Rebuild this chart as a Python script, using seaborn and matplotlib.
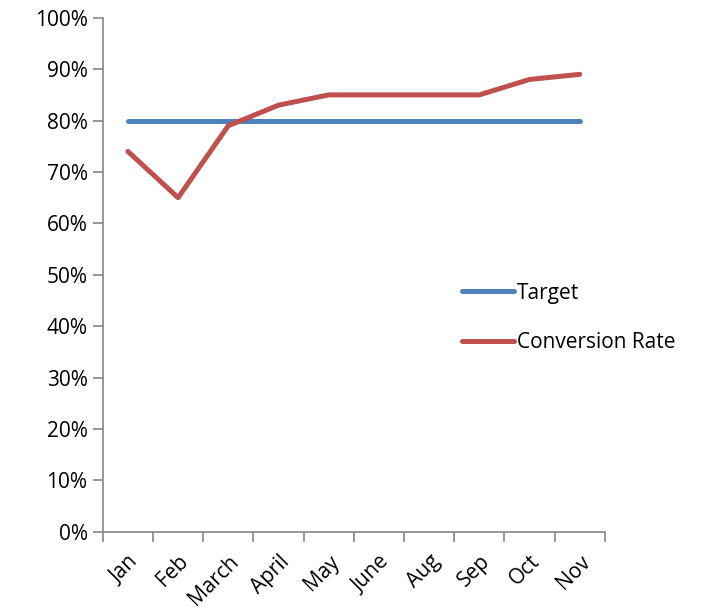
import numpy as np
import pandas as pd
import matplotlib.pyplot as plt
import seaborn as sns
from matplotlib.ticker import PercentFormatter, FixedLocator

# data
months = ['Jan', 'Feb', 'March', 'April', 'May', 'June', 'Aug', 'Sep', 'Oct', 'Nov']
target = [80, 80, 80, 80, 80, 80, 80, 80, 80, 80]
conversion = [74, 65, 79, 83, 85, 85, 85, 85, 88, 89]

df = pd.DataFrame({'Month': months * 2,
                   'Value': target + conversion,
                   'Series': ['Target'] * len(months) + ['Conversion Rate'] * len(months)})

sns.set_style('white')
plt.rcParams['font.family'] = ['Open Sans', 'DejaVu Sans']

fig = plt.figure(figsize=(7.09, 6.14), dpi=100)
ax = fig.add_axes([0.145, 0.134, 0.708, 0.837])

sns.lineplot(data=df, x='Month', y='Value', hue='Series', sort=False,
             palette={'Target': '#4F81BD', 'Conversion Rate': '#C0504D'},
             linewidth=3.6, ax=ax)

ax.set_xlim(-0.5, len(months) - 0.5)
ax.set_ylim(0, 100)
ax.set_yticks(np.arange(0, 101, 10))
ax.yaxis.set_major_formatter(PercentFormatter(decimals=0))
ax.set_xticks(range(len(months)))
ax.set_xticklabels(months, rotation=45, ha='right', rotation_mode='anchor')
ax.xaxis.set_minor_locator(FixedLocator(np.arange(-0.5, len(months), 1)))
ax.tick_params(axis='x', which='major', length=0, labelsize=15, pad=14,
               labelcolor='black')
ax.tick_params(axis='x', which='minor', length=7, width=1.2, color='#868686', bottom=True)
ax.tick_params(axis='y', length=7, width=1.2, color='#868686', left=True,
               labelsize=15, pad=4, labelcolor='black')
ax.set_xlabel('')
ax.set_ylabel('')

for s in ['top', 'right']:
    ax.spines[s].set_visible(False)
for s in ['left', 'bottom']:
    ax.spines[s].set_color('#868686')
    ax.spines[s].set_linewidth(1.2)

leg = ax.legend(loc='upper left', bbox_to_anchor=(0.678, 0.521), frameon=False,
                fontsize=15, handlelength=2.5, handletextpad=0.15, labelspacing=1.35)
for t in leg.get_texts():
    t.set_color('black')

fig.savefig('out.png', dpi=100)
